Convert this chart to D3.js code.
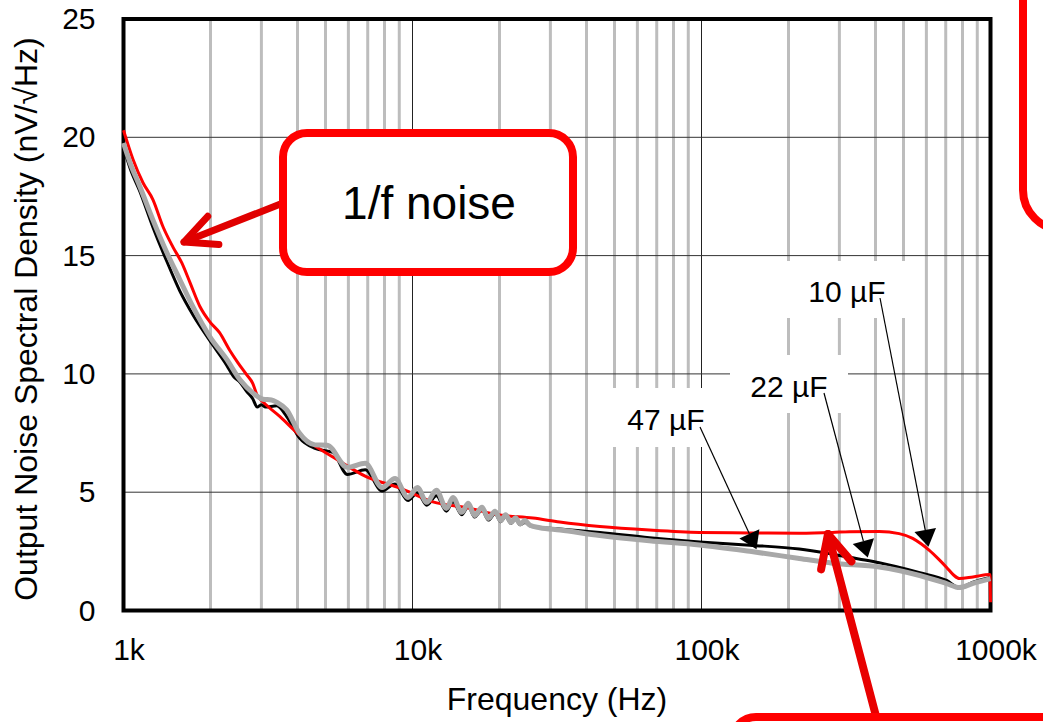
<!DOCTYPE html>
<html>
<head>
<meta charset="utf-8">
<script src="https://cdn.jsdelivr.net/npm/d3@7"></script>
<style>
  body { margin: 0; background: #fff; }
  svg { display: block; }
  text { font-family: "Liberation Sans", Arial, sans-serif; fill: #000; }
</style>
</head>
<body>
<svg id="chart" width="1043" height="722"></svg>
<script>
// Frequency in kHz, output noise spectral density in nV/√Hz
const freqTicks = [1, 10, 100, 1000];
const freqTickLabels = ["1k", "10k", "100k", "1000k"];
const nsdTicks = [0, 5, 10, 15, 20, 25];
const minorFreqs = [2,3,4,5,6,7,8,9,20,30,40,50,60,70,80,90,200,300,400,500,600,700,800,900];

const freq10uF = [1.0, 1.079, 1.168, 1.264, 1.37, 1.48, 1.59, 1.70, 1.84, 1.99, 2.15, 2.33, 2.49, 2.67, 2.80, 2.90, 3.05, 3.48, 4.08, 5.30, 6.94, 9.02, 11.76, 15.4, 20.0, 26.1, 32.3, 44.5, 66, 98.5, 147, 218, 284, 325, 412, 483, 538, 575, 613, 660, 705, 745, 780, 870, 995, 1000];
const nsd10uF  = [20.3, 19.06, 18.08, 17.37, 16.22, 15.38, 14.7, 13.85, 12.84, 12.2, 11.74, 11.0, 10.47, 9.96, 9.6, 9.1, 8.8, 8.19, 7.4, 6.49, 5.65, 5.18, 4.59, 4.34, 4.04, 3.91, 3.74, 3.55, 3.4, 3.3, 3.28, 3.27, 3.3, 3.33, 3.34, 3.25, 3.05, 2.82, 2.55, 2.18, 1.82, 1.5, 1.35, 1.42, 1.52, 0.35];

const freq22uF = [1.0, 1.053, 1.14, 1.264, 1.413, 1.567, 1.738, 1.99, 2.28, 2.4, 2.53, 2.67, 2.80, 2.9, 3.0, 3.1, 3.39, 3.67, 4.06, 4.6, 5.3, 5.95, 6.86, 7.85, 8.7, 9.65, 10.4, 11.2, 12.1, 13.1, 13.8, 14.8, 15.6, 16.4, 17.4, 18.3, 19.3, 20.2, 21.0, 21.9, 22.7, 23.6, 24.5, 25.5, 27.6, 32.4, 44.5, 66, 98.5, 147, 218, 284, 350, 412, 569, 705, 780, 870, 1000];
const nsd22uF  = [19.6, 18.7, 17.7, 16.2, 14.75, 13.5, 12.5, 11.4, 10.35, 9.9, 9.65, 9.25, 8.95, 8.6, 8.7, 8.6, 8.65, 8.2, 7.3, 6.85, 6.68, 5.75, 5.95, 5.05, 5.35, 4.65, 4.98, 4.45, 4.85, 4.2, 4.6, 4.05, 4.4, 3.95, 4.25, 3.82, 4.1, 3.75, 3.98, 3.68, 3.86, 3.62, 3.72, 3.58, 3.51, 3.45, 3.3, 3.08, 2.9, 2.76, 2.6, 2.38, 2.18, 2.02, 1.6, 1.27, 0.97, 1.2, 1.4];

const freq47uF = [1.0, 1.053, 1.14, 1.264, 1.413, 1.567, 1.738, 1.99, 2.28, 2.53, 2.80, 3.04, 3.25, 3.39, 3.67, 4.06, 4.6, 5.07, 5.95, 6.86, 7.85, 8.7, 9.65, 10.4, 11.2, 12.1, 13.1, 13.8, 14.8, 15.6, 16.4, 17.4, 18.3, 19.3, 20.2, 21.0, 21.9, 22.7, 23.6, 24.5, 25.5, 27.6, 32.4, 44.5, 66, 98.5, 147, 218, 284, 412, 569, 705, 780, 870, 1000];
const nsd47uF  = [19.76, 18.93, 17.91, 16.51, 15.12, 13.98, 12.84, 11.57, 10.6, 9.75, 9.2, 8.93, 8.9, 8.8, 8.48, 7.5, 7.0, 6.98, 6.05, 6.22, 5.2, 5.58, 4.78, 5.2, 4.57, 5.08, 4.31, 4.78, 4.15, 4.53, 4.02, 4.36, 3.89, 4.2, 3.8, 4.05, 3.72, 3.92, 3.66, 3.8, 3.6, 3.5, 3.4, 3.17, 2.95, 2.77, 2.5, 2.2, 2.0, 1.84, 1.48, 1.14, 0.97, 1.15, 1.35];

// Capacitor callouts: label text and the frequency where each arrow lands
const capLabels = ["10 µF", "22 µF", "47 µF"];
const capArrowFreq = [610, 376, 155];

const svg = d3.select("#chart");
const plotLeft = 123.5, plotRight = 990.5, plotTop = 19, plotBottom = 610.5;

const x = d3.scaleLog().domain([1, 1000]).range([plotLeft, plotRight]);
const y = d3.scaleLinear().domain([0, 25]).range([plotBottom, plotTop]);

// grid
const grid = svg.append("g");
grid.selectAll(".minor").data(minorFreqs).join("line")
  .attr("x1", d => x(d)).attr("x2", d => x(d))
  .attr("y1", plotTop).attr("y2", plotBottom)
  .attr("stroke", "#bdbdbd").attr("stroke-width", 3);
grid.selectAll(".major").data([10, 100]).join("line")
  .attr("x1", d => x(d)).attr("x2", d => x(d))
  .attr("y1", plotTop).attr("y2", plotBottom)
  .attr("stroke", "#222").attr("stroke-width", 1);
grid.selectAll(".hgrid").data([5, 10, 15, 20]).join("line")
  .attr("x1", plotLeft).attr("x2", plotRight)
  .attr("y1", d => y(d)).attr("y2", d => y(d))
  .attr("stroke", "#333").attr("stroke-width", 1);

// axes (labels only)
const yAxis = svg.append("g").attr("transform", `translate(${plotLeft},0)`)
  .call(d3.axisLeft(y).tickValues(nsdTicks).tickSize(0).tickPadding(28));
yAxis.select(".domain").remove();
yAxis.selectAll("text").style("font-size", "30px").attr("font-family", null);

const xAxis = svg.append("g").attr("transform", `translate(0,${plotBottom})`)
  .call(d3.axisBottom(x).tickValues(freqTicks).tickFormat((d, i) => freqTickLabels[i]).tickSize(0).tickPadding(28));
xAxis.select(".domain").remove();
xAxis.selectAll("text").style("font-size", "30px").attr("font-family", null).attr("dx", 5);

// frame
svg.append("rect")
  .attr("x", plotLeft).attr("y", plotTop).attr("width", plotRight - plotLeft).attr("height", plotBottom - plotTop)
  .attr("fill", "none").attr("stroke", "#000").attr("stroke-width", 4);

// axis titles
svg.append("text")
  .attr("transform", `translate(37,319) rotate(-90)`)
  .attr("text-anchor", "middle")
  .style("font-size", "32px")
  .text("Output Noise Spectral Density (nV/√Hz)");
svg.append("text")
  .attr("x", 557).attr("y", 710)
  .attr("text-anchor", "middle")
  .style("font-size", "32px")
  .text("Frequency (Hz)");

// curves
const series = [
  { f: freq22uF, v: nsd22uF, color: "#000", width: 3 },
  { f: freq10uF, v: nsd10uF, color: "#ff0000", width: 3 },
  { f: freq47uF, v: nsd47uF, color: "#a8a8a8", width: 5 }
];
const line = d3.line().x(d => x(d[0])).y(d => y(d[1])).curve(d3.curveMonotoneX);
svg.append("g").selectAll("path").data(series).join("path")
  .attr("d", s => line(s.f.map((f, i) => [f, s.v[i]])))
  .attr("fill", "none")
  .attr("stroke", s => s.color)
  .attr("stroke-width", s => s.width)
  .attr("stroke-linejoin", "round");

// value on a series at a frequency, linear in log-frequency
function valueAt(fs, vs, f) {
  for (let i = 1; i < fs.length; i++) {
    if (f <= fs[i]) {
      const t = (Math.log(f) - Math.log(fs[i - 1])) / (Math.log(fs[i]) - Math.log(fs[i - 1]));
      return vs[i - 1] + t * (vs[i] - vs[i - 1]);
    }
  }
  return vs[vs.length - 1];
}

// capacitor callouts
const callouts = [
  { label: capLabels[0], tx: 847, ty: 302, box: [786, 261, 122, 57], from: [880, 298], f: capArrowFreq[0], fs: freq10uF, vs: nsd10uF },
  { label: capLabels[1], tx: 789, ty: 397, box: [730, 355, 118, 58], from: [824, 393], f: capArrowFreq[1], fs: freq22uF, vs: nsd22uF },
  { label: capLabels[2], tx: 666, ty: 430, box: [606, 388, 118, 59], from: [700, 427], f: capArrowFreq[2], fs: freq47uF, vs: nsd47uF }
];
const cg = svg.append("g");
callouts.forEach(c => {
  cg.append("rect").attr("x", c.box[0]).attr("y", c.box[1]).attr("width", c.box[2]).attr("height", c.box[3]).attr("fill", "#fff");
  cg.append("text").attr("x", c.tx).attr("y", c.ty).attr("text-anchor", "middle").style("font-size", "30px").text(c.label);
  const tip = [x(c.f), y(valueAt(c.fs, c.vs, c.f)) - 3];
  const dx = tip[0] - c.from[0], dy = tip[1] - c.from[1];
  const len = Math.hypot(dx, dy), ux = dx / len, uy = dy / len;
  const hl = 17, hw = 11;
  const bx = tip[0] - ux * hl, by = tip[1] - uy * hl;
  cg.append("line").attr("x1", c.from[0]).attr("y1", c.from[1]).attr("x2", bx).attr("y2", by)
    .attr("stroke", "#000").attr("stroke-width", 1.2);
  cg.append("path")
    .attr("d", `M${tip[0]},${tip[1]} L${bx - uy * hw},${by + ux * hw} L${bx + uy * hw},${by - ux * hw} Z`)
    .attr("fill", "#000");
});

// red annotation arrow helper (open chevron head)
function redArrow(from, tip, width, armLen, armAngle, color) {
  const g = svg.append("g").attr("stroke", color).attr("stroke-width", width)
    .attr("stroke-linecap", "round").attr("stroke-linejoin", "round").attr("fill", "none");
  g.append("line").attr("x1", from[0]).attr("y1", from[1]).attr("x2", tip[0]).attr("y2", tip[1]);
  const a = Math.atan2(from[1] - tip[1], from[0] - tip[0]);
  const p1 = [tip[0] + armLen * Math.cos(a + armAngle), tip[1] + armLen * Math.sin(a + armAngle)];
  const p2 = [tip[0] + armLen * Math.cos(a - armAngle), tip[1] + armLen * Math.sin(a - armAngle)];
  g.append("path").attr("d", `M${p1[0]},${p1[1]} L${tip[0]},${tip[1]} L${p2[0]},${p2[1]}`);
}

// "1/f noise" callout
redArrow([283, 203], [184, 242], 7, 35, 0.45, "#e00000");
svg.append("rect").attr("x", 283).attr("y", 133).attr("width", 290).attr("height", 139).attr("rx", 24)
  .attr("fill", "#fff").attr("stroke", "#ff0000").attr("stroke-width", 8);
svg.append("text").attr("x", 429).attr("y", 219).attr("text-anchor", "middle")
  .style("font-size", "46px").text("1/f noise");

// partial callout boxes at the edges
svg.append("rect").attr("x", 1023).attr("y", -60).attr("width", 120).attr("height", 290).attr("rx", 40)
  .attr("fill", "#fff").attr("stroke", "#ff0000").attr("stroke-width", 8);
redArrow([877, 720], [828, 534], 8, 36, 0.45, "#e80000");
svg.append("rect").attr("x", 732).attr("y", 717).attr("width", 400).attr("height", 120).attr("rx", 24)
  .attr("fill", "#fff").attr("stroke", "#ff0000").attr("stroke-width", 8);
</script>
</body>
</html>
